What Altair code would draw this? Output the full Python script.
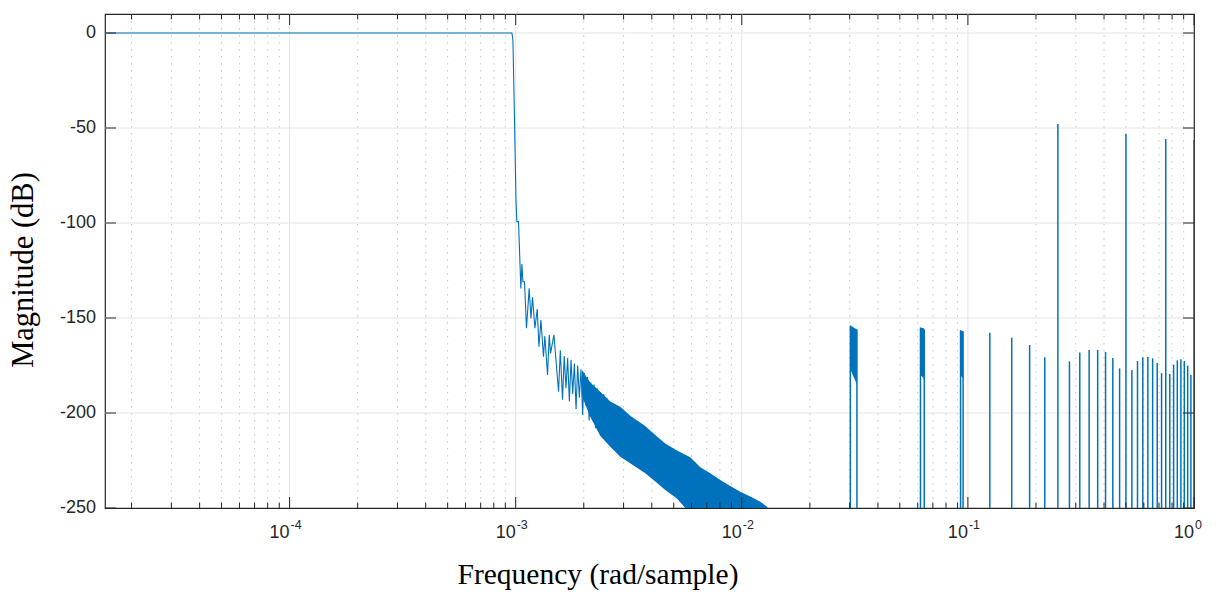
import altair as alt
import pandas as pd

# ---------------- data ----------------
# main response curve (passband, transition, resolvable stopband ripples)
line_freq = [1.526e-5, 9.62e-4, 9.72e-4, 9.88e-4, 1.003e-3, 1.012e-3, 1.029e-3,
             1.054e-3, 1.065e-3, 1.076e-3, 1.094e-3, 1.116e-3, 1.147e-3, 1.168e-3,
             1.187e-3, 1.216e-3, 1.245e-3, 1.267e-3, 1.293e-3, 1.327e-3, 1.346e-3,
             1.383e-3, 1.407e-3, 1.426e-3, 1.476e-3, 1.547e-3, 1.575e-3, 1.611e-3,
             1.639e-3, 1.668e-3, 1.697e-3, 1.727e-3, 1.757e-3, 1.787e-3, 1.818e-3,
             1.849e-3, 1.880e-3, 1.912e-3, 1.944e-3, 1.977e-3, 2.010e-3, 2.044e-3,
             2.078e-3, 2.113e-3, 2.148e-3, 2.184e-3, 2.220e-3, 2.257e-3, 2.294e-3,
             2.332e-3, 2.370e-3, 2.409e-3, 2.449e-3, 2.489e-3, 2.530e-3, 2.572e-3]
line_db = [0, 0, -3.7, -45.8, -88, -99.3, -99.3,
           -134.4, -121.6, -130.9, -130.9, -155.4, -134.4, -150.2,
           -139.1, -155.4, -145.3, -165.1, -151.1, -170.4, -159.5,
           -180, -158.9, -168.6, -158.9, -188.8, -167, -193,
           -170, -187, -171, -194, -172, -190, -174,
           -198, -175, -192, -177, -201, -179, -196,
           -181, -204, -184, -200, -185, -208, -187,
           -203, -189, -212, -190, -205, -192, -215]

# dense ripple band (upper / lower envelope)
band_freq = [1.963e-3, 2.136e-3, 2.365e-3, 2.620e-3, 2.901e-3, 3.211e-3, 3.741e-3,
             4.143e-3, 4.587e-3, 5.167e-3, 5.623e-3, 5.917e-3, 6.552e-3, 7.255e-3,
             8.033e-3, 8.895e-3, 9.848e-3, 1.0905e-2, 1.2075e-2, 1.2926e-2, 1.337e-2]
band_hi = [-177.4, -184, -188.8, -194, -196.7, -201.5, -206.8,
           -211.6, -216, -219.7, -222, -223.3, -228.6, -231.7,
           -235.3, -238.4, -241.4, -244, -246.7, -249.3, -252]
band_lo = [-191, -202, -212, -217.7, -223, -226.5, -231.7,
           -236, -240.5, -245, -250, -262, -262, -262,
           -262, -262, -262, -262, -262, -262, -262]

# spurious tones (k/32 rad/sample) and their peak levels
spike_freq = [0.0302, 0.0323, 0.0617, 0.0641, 0.0928, 0.0952,
              0.125, 0.15625, 0.1875, 0.21875, 0.25, 0.28125, 0.3125, 0.34375,
              0.375, 0.40625, 0.4375, 0.46875, 0.5, 0.53125, 0.5625, 0.59375,
              0.625, 0.65625, 0.6875, 0.71875, 0.75, 0.78125, 0.8125, 0.84375,
              0.875, 0.90625, 0.9375, 0.96875, 1.0]
spike_db = [-154, -156, -155, -156, -156.5, -157,
            -157.7, -160.4, -164.2, -170.7, -47.9, -172.8, -168.2, -166.8,
            -166.8, -167.9, -171, -176.5, -53.2, -177.4, -172.6, -170.7,
            -170.5, -171.2, -173.7, -179, -55.8, -179.5, -174.6, -172.3,
            -171.7, -172.6, -175.1, -180, -56.3]

# clusters of tones near 1/32, 2/32, 3/32
cluster_id = ["a", "a", "b", "b", "c", "c"]
cluster_freq = [0.0302, 0.0323, 0.0617, 0.0641, 0.0928, 0.0952]
cluster_top = [-154, -156, -155, -155.5, -156.5, -157]
cluster_bot = [-177, -185, -180, -182, -180, -182]

# axes
x_major = [1e-4, 1e-3, 1e-2, 1e-1, 1.0]
x_major_base = ["10", "10", "10", "10", "10"]
x_major_exp = ["-4", "-3", "-2", "-1", "0"]
x_mantissa = [2, 3, 4, 5, 6, 7, 8, 9]
x_decades = [1e-5, 1e-4, 1e-3, 1e-2, 1e-1]
y_ticks = [-250, -200, -150, -100, -50, 0]
y_labels = ["-250", "-200", "-150", "-100", "-50", "0"]

title_text = "Magnitude Response (dB)"
x_title = "Frequency (rad/sample)"
y_title = "Magnitude (dB)"

# ---------------- build ----------------
W, H = 1089, 494
BLUE = "#0072BD"
AX = "#262626"

x_minor = [m * d for d in x_decades for m in x_mantissa if m * d > 1.526e-5]

line_df = pd.DataFrame({"f": line_freq, "db": line_db, "o": list(range(len(line_freq)))})
band_df = pd.DataFrame({"f": band_freq, "hi": band_hi, "lo": band_lo})
spike_df = pd.DataFrame({"f": spike_freq, "db": spike_db})
clu_df = pd.DataFrame({"f": cluster_freq, "top": cluster_top, "bot": cluster_bot, "c": cluster_id})
xmaj_df = pd.DataFrame({"f": x_major, "b": x_major_base, "e": x_major_exp})
xmin_df = pd.DataFrame({"f": x_minor})
y_df = pd.DataFrame({"v": y_ticks, "t": y_labels})
xt_df = pd.DataFrame({"t": [x_title]})
yt_df = pd.DataFrame({"t": [y_title]})

xs = alt.Scale(type="log", domain=[1.526e-5, 1.0], nice=False)
ys = alt.Scale(domain=[-250, 10], nice=False, zero=False)

X = lambda f="f": alt.X(f"{f}:Q", scale=xs, axis=None)
Y = lambda f: alt.Y(f"{f}:Q", scale=ys, axis=None)

# grid
grid_xmaj = alt.Chart(xmaj_df[xmaj_df.f < 1]).mark_rule(color="#e4e4e4", strokeWidth=1).encode(x=X())
grid_xmin = alt.Chart(xmin_df).mark_rule(color="#c4c4c4", strokeWidth=1, strokeDash=[1.5, 5.5]).encode(x=X())
grid_y = alt.Chart(y_df[y_df.v > -250]).mark_rule(color="#e4e4e4", strokeWidth=1).encode(y=Y("v"))

# data
band = alt.Chart(band_df).mark_area(color=BLUE, clip=True, opacity=1).encode(
    x=X(), y=Y("hi"), y2="lo:Q")
clusters = alt.Chart(clu_df).mark_area(color=BLUE, clip=True).encode(
    x=X(), y=Y("top"), y2="bot:Q", detail="c:N")
spikes = alt.Chart(spike_df).mark_rule(color=BLUE, strokeWidth=1.5, clip=True).encode(
    x=X(), y=Y("db"), y2=alt.value(H))
line = alt.Chart(line_df).mark_line(color=BLUE, strokeWidth=1.1, clip=True).encode(
    x=X(), y=Y("db"), order="o:Q")

# inward ticks (box style)
tk = dict(color=AX, strokeWidth=1)
t_xmaj_b = alt.Chart(xmaj_df).mark_rule(**tk).encode(x=X(), y=alt.value(H), y2=alt.value(H - 11))
t_xmaj_t = alt.Chart(xmaj_df).mark_rule(**tk).encode(x=X(), y=alt.value(0), y2=alt.value(11))
t_xmin_b = alt.Chart(xmin_df).mark_rule(**tk).encode(x=X(), y=alt.value(H), y2=alt.value(H - 5.5))
t_xmin_t = alt.Chart(xmin_df).mark_rule(**tk).encode(x=X(), y=alt.value(0), y2=alt.value(5.5))
t_y_l = alt.Chart(y_df).mark_rule(**tk).encode(y=Y("v"), x=alt.value(0), x2=alt.value(11))
t_y_r = alt.Chart(y_df).mark_rule(**tk).encode(y=Y("v"), x=alt.value(W), x2=alt.value(W - 11))

# tick labels
lab_base = alt.Chart(xmaj_df).mark_text(
    font="Liberation Sans", fontSize=18, color=AX, align="right", baseline="alphabetic"
).encode(x=X(), y=alt.value(H + 30), text="b:N")
lab_exp = alt.Chart(xmaj_df).mark_text(
    font="Liberation Sans", fontSize=12.5, color=AX, align="left", baseline="alphabetic", dx=1
).encode(x=X(), y=alt.value(H + 21), text="e:N")
lab_y = alt.Chart(y_df).mark_text(
    font="Liberation Sans", fontSize=18, color=AX, align="right", baseline="middle"
).encode(y=Y("v"), x=alt.value(-9), text="t:N")

# axis titles
xtitle = alt.Chart(xt_df).mark_text(
    font="Liberation Serif", fontSize=29.5, color="#000000", align="center", baseline="alphabetic"
).encode(x=alt.value(493), y=alt.value(570), text="t:N")
ytitle = alt.Chart(yt_df).mark_text(
    font="Liberation Serif", fontSize=30.5, color="#000000", align="center", baseline="middle", angle=270
).encode(x=alt.value(-81), y=alt.value(256), text="t:N")

chart = alt.layer(
    grid_xmin, grid_xmaj, grid_y, band, clusters, spikes, line,
    t_xmaj_b, t_xmaj_t, t_xmin_b, t_xmin_t, t_y_l, t_y_r,
    lab_base, lab_exp, lab_y, xtitle, ytitle
).properties(
    width=W, height=H,
    title=alt.TitleParams(title_text, font="Liberation Serif", fontSize=26, fontWeight="bold",
                          color="#000000", anchor="middle", baseline="alphabetic", offset=9),
    padding={"left": 97, "top": 6, "right": 14, "bottom": 84},
    autosize=alt.AutoSizeParams(type="none"),
    background="white",
).configure_view(stroke=AX, strokeWidth=1.2)

chart.save("out.html", embed_options={"renderer": "svg", "actions": False})
